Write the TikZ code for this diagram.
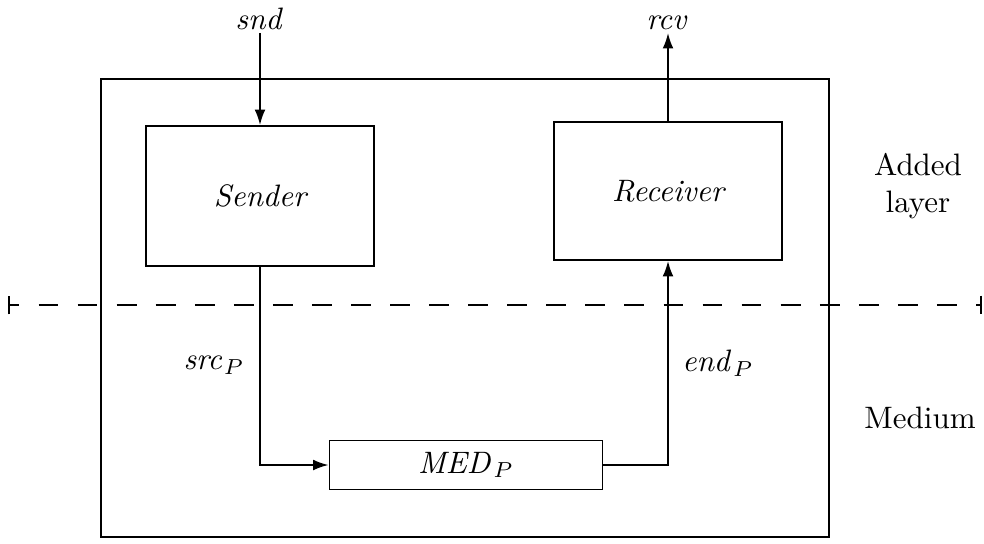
\documentclass[tikz,border=0pt]{standalone}
\usetikzlibrary{arrows.meta}
\begin{document}
\begin{tikzpicture}[x=0.01133cm,y=-0.01133cm,
  box/.style={draw,semithick,inner sep=0pt},
  conn/.style={semithick,-{Latex[length=5pt,width=3.5pt]}},
  lbl/.style={inner sep=1pt}]
\useasboundingbox (0,0) rectangle (984,543);
% outer frame
\coordinate (otl) at (101,79);
\coordinate (obr) at (829,537);
\draw[semithick] (otl) rectangle (obr);
% boxes
\node[box,minimum width=228*0.01133cm,minimum height=140*0.01133cm] (snd) at (260,196) {\itshape Sender};
\node[box,minimum width=228*0.01133cm,minimum height=138*0.01133cm] (rcv) at (668,191) {\itshape Receiver};
\node[box,minimum width=273*0.01133cm,minimum height=49*0.01133cm] (med) at (466,465) {$\mathit{MED}_P$};
% external labels
\node[lbl,anchor=south] (sndl) at (260,33) {$\mathit{snd}$};
\node[lbl,anchor=south] (rcvl) at (668,33) {$\mathit{rcv}$};
\node[lbl] (srcl) at (214,365) {$\mathit{src}_P$};
\node[lbl] (endl) at (718,363) {$\mathit{end}_P$};
\node[lbl,align=center] (added) at (918,186) {Added\\layer};
\node[lbl] (medium) at (920,418) {Medium};
% connectors
\draw[conn] (sndl.south) -- (snd.north);
\draw[conn] (rcv.north) -- (rcvl.south);
\draw[conn] (snd.south) |- (med.west);
\draw[conn] (med.east) -| (rcv.south);
% dashed separator
\coordinate (dl) at (8,305);
\coordinate (dr) at (982,305);
\draw[semithick,dash pattern=on 6.4pt off 6.2pt,dash phase=3.2pt,{Bar[width=6pt]}-{Bar[width=6pt]}] (dl) -- (dr);
\end{tikzpicture}
\end{document}
